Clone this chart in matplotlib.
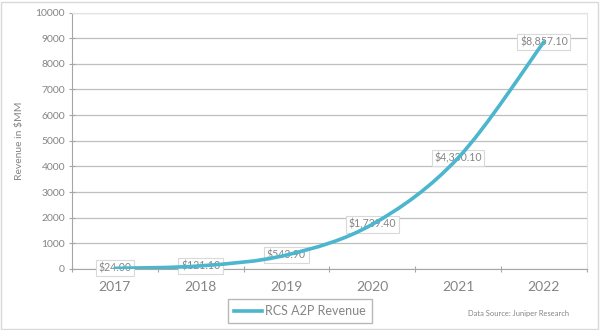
import matplotlib
matplotlib.use("Agg")
import matplotlib.pyplot as plt
from matplotlib.path import Path
import matplotlib.patches as patches

plt.rcParams['font.family'] = ['Lato', 'DejaVu Sans']

years = ['2017', '2018', '2019', '2020', '2021', '2022']
revenue = [24.00, 121.10, 543.90, 1739.40, 4330.10, 8857.10]
etiquetas = ['$24.00', '$121.10', '$543.90', '$1,739.40', '$4,330.10', '$8,857.10']
serie = 'RCS A2P Revenue'
fuente = 'Data Source: Juniper Research'

GRIS_TXT = '#858585'
AZUL = '#4bb6cd'


def curva_suave(xs, ys):
    # bezier tipo catmull-rom, como la linea suavizada de excel
    pts = list(zip(xs, ys))
    verts = [pts[0]]
    codes = [Path.MOVETO]
    n = len(pts)
    for i in range(n - 1):
        p0 = pts[i - 1] if i > 0 else pts[i]
        p1 = pts[i]
        p2 = pts[i + 1]
        p3 = pts[i + 2] if i + 2 < n else pts[i + 1]
        c1 = (p1[0] + (p2[0] - p0[0]) / 6, p1[1] + (p2[1] - p0[1]) / 6)
        c2 = (p2[0] - (p3[0] - p1[0]) / 6, p2[1] - (p3[1] - p1[1]) / 6)
        verts += [c1, c2, p2]
        codes += [Path.CURVE4] * 3
    return Path(verts, codes)


fig = plt.figure(figsize=(6, 3.3), dpi=100)
ax = fig.add_axes([0.12, 0.185, 0.858, 0.777])

x = list(range(len(years)))
parche = patches.PathPatch(curva_suave(x, revenue), facecolor='none', edgecolor=AZUL,
                           lw=2.6, capstyle='round', zorder=4)
ax.add_patch(parche)

for xi, yi, txt in zip(x, revenue, etiquetas):
    ax.text(xi, yi, txt.replace('$', r'\$'), ha='center', va='center', fontsize=7.6,
            color=GRIS_TXT, zorder=3,
            bbox=dict(boxstyle='square,pad=0.25', fc='white', ec='#d9d9d9', lw=0.8))

ax.set_xlim(-0.5, len(years) - 0.5)
ax.set_ylim(0, 10000)
ax.set_yticks(range(0, 10001, 1000))
ax.set_xticks([i - 0.5 for i in range(len(years) + 1)])
ax.set_xticklabels([])
ax.set_xticks(x, minor=True)
ax.set_xticklabels(years, minor=True)
ax.tick_params(axis='x', which='minor', length=0, labelsize=10, labelcolor=GRIS_TXT, pad=9)
ax.tick_params(axis='x', which='major', length=4, direction='inout', color='#a6a6a6')
ax.tick_params(axis='y', length=4, direction='inout', color='#a6a6a6', labelsize=7.5,
               labelcolor=GRIS_TXT, pad=3)

ax.yaxis.grid(True, color='#bfbfbf', lw=0.9, zorder=0)
ax.set_axisbelow(True)
for lado in ['top', 'right']:
    ax.spines[lado].set_color('#e3e3e3')
for lado in ['left', 'bottom']:
    ax.spines[lado].set_color('#a6a6a6')

ax.set_ylabel('Revenue in \\$MM', fontsize=7.5, color=GRIS_TXT, labelpad=8)

leg = fig.legend([plt.Line2D([], [], color=AZUL, lw=2.6)], [serie], loc='center',
                 bbox_to_anchor=(0.5, 0.057), frameon=True, fancybox=False, fontsize=9,
                 handlelength=2.2, handletextpad=0.3, borderpad=0.5)
leg.get_frame().set_edgecolor('#a6a6a6')
for t in leg.get_texts():
    t.set_color(GRIS_TXT)

fig.text(0.78, 0.042, fuente, fontsize=5.4, color=GRIS_TXT)

borde = patches.Rectangle((0.002, 0.004), 0.994, 0.99, transform=fig.transFigure,
                          fill=False, ec='#d9d9d9', lw=1)
fig.patches.append(borde)

plt.savefig('out.png', dpi=100)
plt.close()
